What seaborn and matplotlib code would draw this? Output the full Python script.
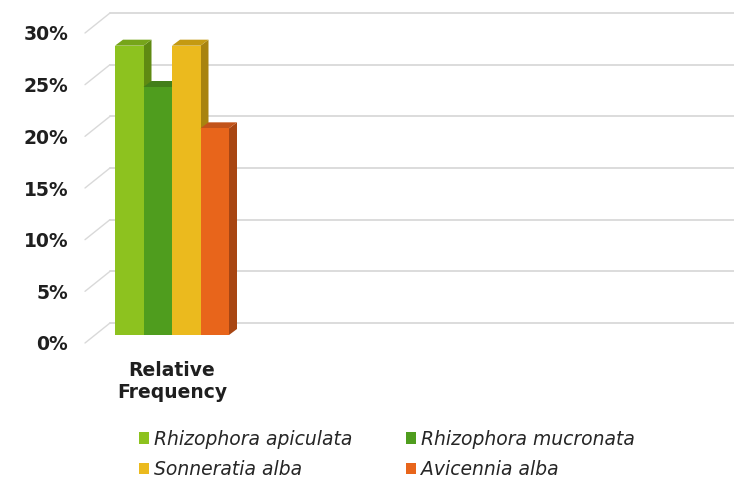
import matplotlib
matplotlib.use("Agg")
import matplotlib.pyplot as plt
import matplotlib.transforms as mtransforms
from matplotlib.patches import Polygon, Patch
from matplotlib.lines import Line2D
import seaborn as sns
import pandas as pd

# --- data -------------------------------------------------------------
categories = ["Relative\nFrequency"]
species = ["Rhizophora apiculata", "Rhizophora mucronata",
           "Sonneratia alba", "Avicennia alba"]
values = [28, 24, 28, 20]
y_ticks = [0, 5, 10, 15, 20, 25, 30]
y_tick_labels = ["0%", "5%", "10%", "15%", "20%", "25%", "30%"]

front_colors = ["#8dc21f", "#4f9d1e", "#ebba1e", "#e8651b"]
side_colors = ["#5f8a12", "#36701a", "#a8830f", "#a84613"]
top_colors = ["#76a51a", "#437f1a", "#c49a12", "#c2531a"]

df = pd.DataFrame({
    "metric": categories * len(species),
    "species": species,
    "value": values,
})

# --- figure -----------------------------------------------------------
sns.set_style("white")
plt.rcParams["font.family"] = ["DejaVu Sans"]
DPI = 100
fig = plt.figure(figsize=(7.34, 4.97), dpi=DPI)
W, H = 734, 497
left_px, right_px, base_px, top_px = 85, 734, 335, 25
ax = fig.add_axes([left_px / W, 1 - base_px / H,
                   (right_px - left_px) / W, (base_px - top_px) / H])

sns.barplot(data=df, x="metric", y="value", hue="species",
            hue_order=species, palette=front_colors, saturation=1,
            width=0.8, linewidth=0, legend=False, ax=ax)

ax.set_ylim(0, 30)
x_center_px = 172
px_per_unit = 114 / 0.8
ax.set_xlim(-(x_center_px - left_px) / px_per_unit,
            (right_px - x_center_px) / px_per_unit)
for s in ax.spines.values():
    s.set_visible(False)
ax.set_xlabel("")
ax.set_ylabel("")
ax.set_yticks(y_ticks)
ax.set_yticklabels(y_tick_labels, fontsize=13.5, fontweight="bold",
                   color="#1f1f1f")
ax.tick_params(axis="y", length=0, pad=12)
ax.tick_params(axis="x", length=0, pad=19)
for lbl in ax.get_xticklabels():
    lbl.set_fontsize(13.5)
    lbl.set_fontweight("bold")
    lbl.set_color("#1f1f1f")
    lbl.set_linespacing(1.2)

# y labels sit at the front edge of the floor, a little below the bar base
shift = mtransforms.ScaledTranslation(0, -8 / DPI, fig.dpi_scale_trans)
for lbl in ax.get_yticklabels():
    lbl.set_transform(lbl.get_transform() + shift)

fig.canvas.draw()
to_disp = ax.transData.transform
ident = mtransforms.IdentityTransform()

# back wall gridlines with slanted side-wall segments
wall_depth_x, wall_depth_y, floor_drop = 25, 12, 8
ax_left_disp = ax.transAxes.transform((0, 0))[0]
for v in y_ticks:
    yf = to_disp((0, v))[1]
    yb = yf + wall_depth_y
    ax.add_artist(Line2D([ax_left_disp + wall_depth_x, W], [yb, yb],
                         transform=ident, color="#d9d9d9", lw=1.3,
                         zorder=0.5, clip_on=False))
    ax.add_artist(Line2D([ax_left_disp, ax_left_disp + wall_depth_x],
                         [yf - floor_drop, yb], transform=ident,
                         color="#d9d9d9", lw=1.0, zorder=0.5, clip_on=False))

# give each bar a top and right face
dx, dy = 8, 6
for i, p in enumerate(ax.patches):
    x0, w, h = p.get_x(), p.get_width(), p.get_height()
    X0, Yb = to_disp((x0, 0))
    X1, Yt = to_disp((x0 + w, h))
    base_z = 10 + 3 * i
    side = Polygon([(X1, Yb), (X1 + dx, Yb + dy), (X1 + dx, Yt + dy), (X1, Yt)],
                   closed=True, transform=ident, facecolor=side_colors[i],
                   edgecolor="none", zorder=base_z, clip_on=False)
    top = Polygon([(X0, Yt), (X1, Yt), (X1 + dx, Yt + dy), (X0 + dx, Yt + dy)],
                  closed=True, transform=ident, facecolor=top_colors[i],
                  edgecolor="none", zorder=base_z + 1, clip_on=False)
    ax.add_artist(side)
    ax.add_artist(top)
    p.set_zorder(base_z + 2)
    p.set_clip_on(False)

# legend, filled row by row
order = [0, 2, 1, 3]
handles = [Patch(facecolor=front_colors[k], edgecolor="none") for k in order]
labels = [species[k] for k in order]
leg = fig.legend(handles, labels, loc="upper left",
                 bbox_to_anchor=(135 / W, 1 - 426 / H), ncol=2,
                 frameon=False, handlelength=0.55, handleheight=0.55,
                 handletextpad=0.25, columnspacing=2.85, labelspacing=0.6,
                 borderaxespad=0, borderpad=0.2,
                 prop={"style": "italic", "size": 13.5})
for t in leg.get_texts():
    t.set_color("#262626")

fig.savefig("out.png", dpi=DPI, facecolor="white")
